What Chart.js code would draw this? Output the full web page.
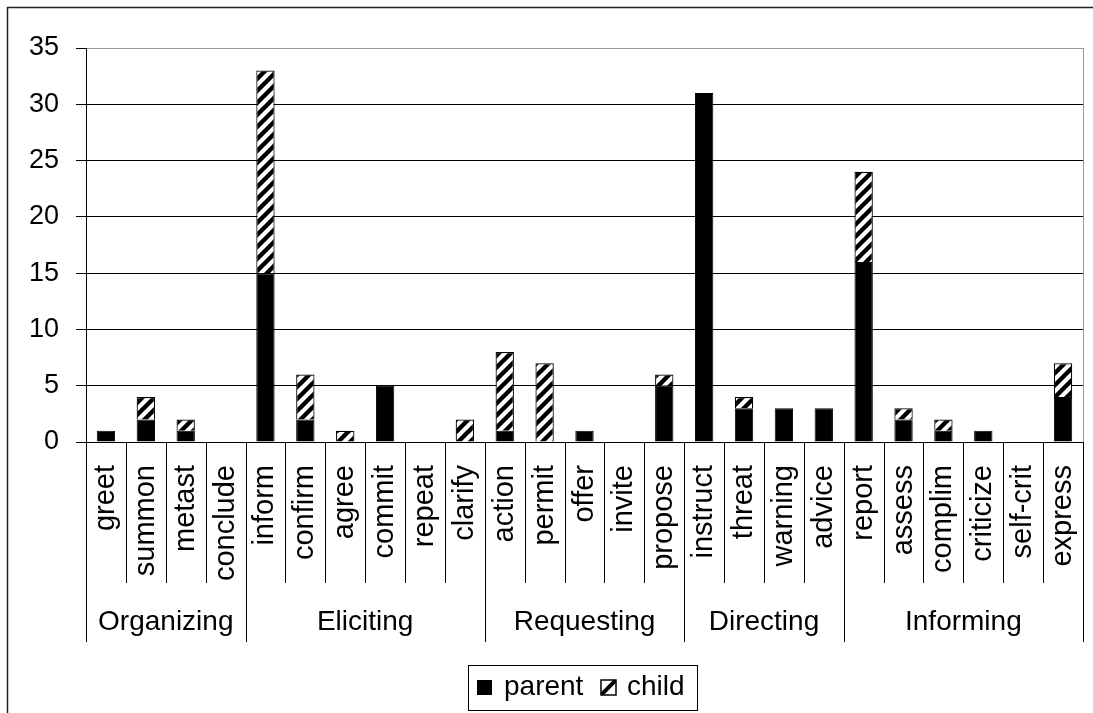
<!DOCTYPE html>
<html>
<head>
<meta charset="utf-8">
<script src="https://cdn.jsdelivr.net/npm/chart.js@4.4.1/dist/chart.umd.min.js"></script>
<style>
  html, body { margin: 0; padding: 0; background: #fff; }
  #wrap { width: 1093px; height: 713px; position: relative; }
</style>
</head>
<body>
<div id="wrap"><canvas id="c" width="1093" height="713"></canvas></div>
<script>
// Speech-act categories and their counts
const categories = ['greet', 'summon', 'metast', 'conclude',
  'inform', 'confirm', 'agree', 'commit', 'repeat', 'clarify',
  'action', 'permit', 'offer', 'invite', 'propose',
  'instruct', 'threat', 'warning', 'advice',
  'report', 'assess', 'complim', 'criticize', 'self-crit', 'express'];
const groupNames = ['Organizing', 'Eliciting', 'Requesting', 'Directing', 'Informing'];
const groupSizes = [4, 6, 5, 4, 6];
const parentCounts = [1, 2, 1, 0, 15, 2, 0, 5, 0, 0, 1, 0, 1, 0, 5, 31, 3, 3, 3, 16, 2, 1, 1, 0, 4];
const childCounts  = [0, 2, 1, 0, 18, 4, 1, 0, 0, 2, 7, 7, 0, 0, 1, 0, 1, 0, 0, 8, 1, 1, 0, 0, 3];
const yTicks = [0, 5, 10, 15, 20, 25, 30, 35];

const FONT = "'Liberation Sans', Arial, sans-serif";

// Diagonal hatch used for the "child" series
function makeHatch() {
  const s = 12;
  const p = document.createElement('canvas');
  p.width = s; p.height = s;
  const g = p.getContext('2d');
  g.fillStyle = '#fff';
  g.fillRect(0, 0, s, s);
  g.strokeStyle = '#000';
  g.lineWidth = 4.4;
  g.beginPath();
  g.moveTo(-3, s + 3); g.lineTo(s + 3, -3);
  g.moveTo(-3, 3); g.lineTo(3, -3);
  g.moveTo(s - 3, s + 3); g.lineTo(s + 3, s - 3);
  g.stroke();
  return document.getElementById('c').getContext('2d').createPattern(p, 'repeat');
}
const hatch = makeHatch();

// Frame, category separators, group labels and legend
const decorations = {
  id: 'decorations',
  afterDraw(chart) {
    const ctx = chart.ctx;
    const xs = chart.scales.x;
    const area = chart.chartArea;
    const w = xs.getPixelForValue(1) - xs.getPixelForValue(0);
    const edge = i => xs.getPixelForValue(0) - w / 2 + i * w;
    ctx.save();

    // outer frame
    ctx.strokeStyle = '#222';
    ctx.lineWidth = 1.5;
    ctx.beginPath();
    ctx.moveTo(7, 7.5); ctx.lineTo(1093, 7.5);
    ctx.moveTo(7.5, 7); ctx.lineTo(7.5, 713);
    ctx.stroke();

    // right border of plot area
    ctx.strokeStyle = '#999';
    ctx.lineWidth = 1;
    ctx.beginPath();
    ctx.moveTo(Math.round(area.right) + 0.5, area.top);
    ctx.lineTo(Math.round(area.right) + 0.5, area.bottom);
    ctx.stroke();

    // category separators below the axis
    const groupEdges = new Set([0]);
    let acc = 0;
    groupSizes.forEach(n => { acc += n; groupEdges.add(acc); });
    ctx.strokeStyle = '#000';
    ctx.lineWidth = 1;
    ctx.beginPath();
    for (let i = 0; i <= categories.length; i++) {
      const x = Math.round(edge(i)) + 0.5;
      ctx.moveTo(x, area.bottom);
      ctx.lineTo(x, groupEdges.has(i) ? 642 : 583);
    }
    ctx.stroke();

    // group labels
    ctx.fillStyle = '#000';
    ctx.font = '28px ' + FONT;
    ctx.textAlign = 'center';
    ctx.textBaseline = 'alphabetic';
    let start = 0;
    groupNames.forEach((name, k) => {
      const cx = (edge(start) + edge(start + groupSizes[k])) / 2;
      ctx.fillText(name, cx, 630);
      start += groupSizes[k];
    });

    // legend
    const lx = 468, ly = 665, lw = 229, lh = 45;
    ctx.fillStyle = '#fff';
    ctx.fillRect(lx, ly, lw, lh);
    ctx.strokeStyle = '#000';
    ctx.lineWidth = 1;
    ctx.strokeRect(lx + 0.5, ly + 0.5, lw, lh);
    ctx.fillStyle = '#000';
    ctx.fillRect(477, 680, 15, 15);
    ctx.textAlign = 'left';
    ctx.fillText(chart.data.datasets[0].label, 504, 695);
    // hatched marker
    ctx.fillStyle = '#fff';
    ctx.fillRect(601, 680, 15, 15);
    ctx.save();
    ctx.beginPath(); ctx.rect(601, 680, 15, 15); ctx.clip();
    ctx.strokeStyle = '#000';
    ctx.lineWidth = 4;
    ctx.beginPath(); ctx.moveTo(599, 697); ctx.lineTo(618, 678); ctx.stroke();
    ctx.restore();
    ctx.lineWidth = 1.5;
    ctx.strokeRect(601, 680, 15, 15);
    ctx.fillStyle = '#000';
    ctx.fillText(chart.data.datasets[1].label, 627, 695);
    ctx.restore();
  }
};

new Chart(document.getElementById('c'), {
  type: 'bar',
  data: {
    labels: categories,
    datasets: [
      { label: 'parent', data: parentCounts, backgroundColor: '#000', borderColor: '#000', borderWidth: 1 },
      { label: 'child', data: childCounts, backgroundColor: hatch, borderColor: '#000', borderWidth: 1.2 }
    ]
  },
  options: {
    responsive: false,
    devicePixelRatio: 1,
    animation: false,
    layout: { padding: { left: 0, top: 48, right: 10, bottom: 0 } },
    datasets: { bar: { categoryPercentage: 1, barPercentage: 0.46 } },
    plugins: { legend: { display: false }, tooltip: { enabled: false } },
    scales: {
      x: {
        stacked: true,
        afterFit: s => { s.height = 713 - 442; s.paddingLeft = 0; s.paddingRight = 0; },
        grid: { display: false, drawTicks: false },
        border: { display: true, color: '#000' },
        ticks: {
          minRotation: 90, maxRotation: 90, autoSkip: false,
          padding: 23, color: '#000',
          font: { family: FONT, size: 29 }
        }
      },
      y: {
        stacked: true,
        min: 0, max: 35,
        afterFit: s => { s.width = 86; s.paddingTop = 0; s.paddingBottom = 0; },
        afterBuildTicks: s => { s.ticks = yTicks.map(v => ({ value: v })); },
        border: { display: true, color: '#000' },
        grid: {
          color: c => (c.tick && c.tick.value === 35 ? '#999' : '#000'),
          tickColor: '#000', tickLength: 10, lineWidth: 1
        },
        ticks: { padding: 17, color: '#000', font: { family: FONT, size: 27 } }
      }
    }
  },
  plugins: [decorations]
});
</script>
</body>
</html>
